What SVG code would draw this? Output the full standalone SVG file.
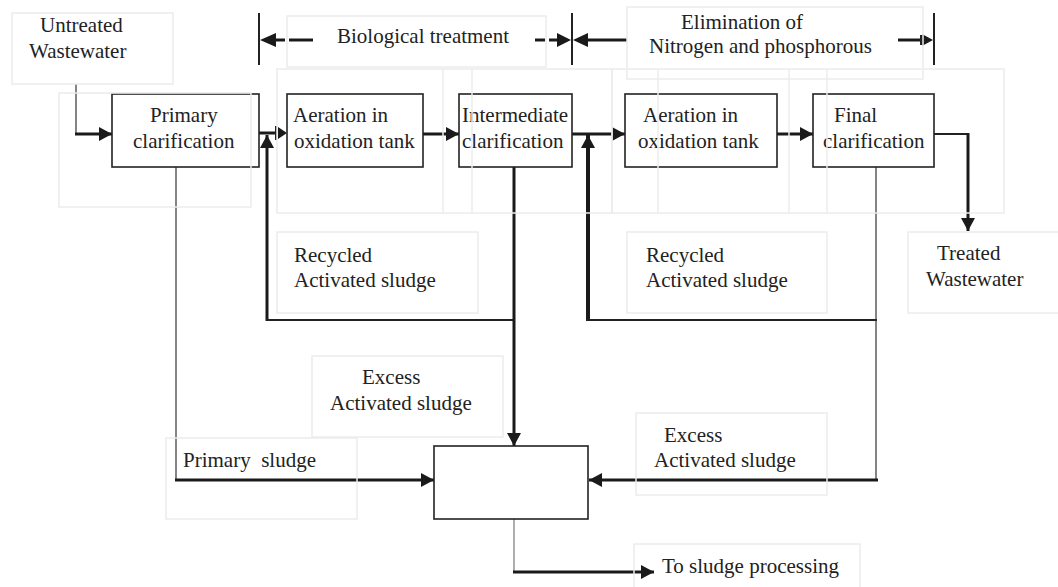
<svg xmlns="http://www.w3.org/2000/svg" width="1058" height="587" viewBox="0 0 1058 587">
<style>
  text { font-family: "Liberation Serif", "Times New Roman", serif; font-size: 21px; fill: #222; white-space: pre; }
  .box { fill: none; stroke: #222; stroke-width: 1.6; }
  .faint { fill: none; stroke: #ececec; stroke-width: 1.5; }
  .thick { stroke: #1a1a1a; stroke-width: 3; fill: none; }
  .med { stroke: #222; stroke-width: 2; fill: none; }
  .thin { stroke: #333; stroke-width: 1.2; fill: none; }
  .head { fill: #1a1a1a; stroke: none; }
</style>
<defs>
  <marker id="ah" markerUnits="userSpaceOnUse" markerWidth="14" markerHeight="14" refX="13" refY="7" orient="auto">
    <path d="M0,0 L13,7 L0,14 z" fill="#1a1a1a"/>
  </marker>
</defs>
<rect width="1058" height="587" fill="#ffffff"/>

<g id="connectors">
  <!-- input -->
  <line class="thin" x1="76" y1="84" x2="76" y2="134"/>
  <line class="thick" x1="75" y1="134" x2="112" y2="134" marker-end="url(#ah)"/>
  <!-- primary to aeration 1 -->
  <line class="thick" x1="259" y1="133" x2="277" y2="133"/>
  <line class="med" x1="276" y1="126" x2="276" y2="140"/>
  <polygon class="head" points="278,127 287,133 278,139"/>
  <!-- recycle 1 -->
  <line class="thick" x1="267" y1="321" x2="267" y2="135" marker-end="url(#ah)"/>
  <line class="med" x1="266" y1="320" x2="514" y2="320"/>
  <!-- aeration1 to intermediate -->
  <line class="thick" x1="423" y1="134" x2="459" y2="134" marker-end="url(#ah)"/>
  <!-- intermediate down -->
  <line class="thick" x1="514" y1="167" x2="514" y2="446" marker-end="url(#ah)"/>
  <!-- intermediate to aeration 2 -->
  <line class="thick" x1="572" y1="134" x2="625" y2="134" marker-end="url(#ah)"/>
  <!-- recycle 2 -->
  <line stroke="#1a1a1a" stroke-width="4" x1="588" y1="321" x2="588" y2="135" marker-end="url(#ah)"/>
  <line class="med" x1="587" y1="320" x2="877" y2="320"/>
  <!-- aeration2 to final -->
  <line class="thick" x1="777" y1="134" x2="813" y2="134" marker-end="url(#ah)"/>
  <!-- final output -->
  <line class="med" x1="934" y1="134" x2="969" y2="134"/>
  <line class="thick" x1="968" y1="133" x2="968" y2="231" marker-end="url(#ah)"/>
  <!-- final down -->
  <line class="thin" x1="876" y1="167" x2="876" y2="481"/>
  <line class="thick" x1="878" y1="480" x2="589" y2="480" marker-end="url(#ah)"/>
  <!-- primary sludge -->
  <line class="thin" x1="176" y1="167" x2="176" y2="480"/>
  <line class="thick" x1="175" y1="480" x2="434" y2="480" marker-end="url(#ah)"/>
  <!-- to sludge processing -->
  <line stroke="#777" stroke-width="1.2" x1="514" y1="519" x2="514" y2="572"/>
  <line class="thick" x1="513" y1="572" x2="654" y2="572" marker-end="url(#ah)"/>
</g>

<g id="dimensions">
  <line class="med" x1="259" y1="13" x2="259" y2="65"/>
  <line class="med" x1="572" y1="13" x2="572" y2="65"/>
  <line class="med" x1="934" y1="13" x2="934" y2="65"/>
  <polygon class="head" points="260,40 276,33 276,47"/>
  <line class="thick" x1="275" y1="40" x2="285" y2="40"/>
  <line class="thick" x1="289" y1="40" x2="313" y2="40"/>
  <line class="thick" x1="535" y1="40" x2="545" y2="40"/>
  <line class="thick" x1="549" y1="40" x2="559" y2="40"/>
  <polygon class="head" points="571,40 557,33 557,47"/>
  <polygon class="head" points="573,40 588,33 588,47"/>
  <line class="thick" x1="587" y1="40" x2="627" y2="40"/>
  <line class="thick" x1="898" y1="40" x2="921" y2="40"/>
  <line class="med" x1="921" y1="35" x2="921" y2="45"/>
  <polygon class="head" points="933,40 922,34 922,46"/>
</g>

<g id="untreated">
  <text x="40" y="32">Untreated</text>
  <text x="29" y="58">Wastewater</text>
</g>
<g id="primary-clarification">
  <rect class="box" x="112" y="94" width="147" height="73"/>
  <text x="150" y="122">Primary</text>
  <text x="133" y="148">clarification</text>
</g>
<g id="aeration-1">
  <rect class="box" x="287" y="94" width="136" height="73"/>
  <text x="293" y="122">Aeration in</text>
  <text x="294" y="148">oxidation tank</text>
</g>
<g id="intermediate-clarification">
  <rect class="box" x="459" y="94" width="113" height="73"/>
  <text x="462" y="122">Intermediate</text>
  <text x="462" y="148">clarification</text>
</g>
<g id="aeration-2">
  <rect class="box" x="625" y="94" width="152" height="73"/>
  <text x="643" y="122">Aeration in</text>
  <text x="638" y="148">oxidation tank</text>
</g>
<g id="final-clarification">
  <rect class="box" x="813" y="94" width="121" height="73"/>
  <text x="834" y="122">Final</text>
  <text x="823" y="148">clarification</text>
</g>
<g id="sludge-collector">
  <rect class="box" x="434" y="446" width="154" height="73"/>
</g>
<g id="labels">
  <text x="337" y="43">Biological treatment</text>
  <text x="681" y="29">Elimination of</text>
  <text x="649" y="53">Nitrogen and phosphorous</text>
  <text x="294" y="262">Recycled</text>
  <text x="294" y="287">Activated sludge</text>
  <text x="646" y="262">Recycled</text>
  <text x="646" y="287">Activated sludge</text>
  <text x="937" y="260">Treated</text>
  <text x="926" y="286">Wastewater</text>
  <text x="362" y="384">Excess</text>
  <text x="330" y="410">Activated sludge</text>
  <text x="183" y="467">Primary  sludge</text>
  <text x="664" y="442">Excess</text>
  <text x="654" y="467">Activated sludge</text>
  <text x="662" y="573">To sludge processing</text>
</g>

<g id="faint-frames">
  <rect class="faint" x="12" y="13" width="161" height="71"/>
  <rect class="faint" x="59" y="93" width="192" height="114"/>
  <rect class="faint" x="287" y="16" width="259" height="51"/>
  <rect class="faint" x="277" y="69" width="335" height="144"/>
  <line class="faint" x1="443" y1="69" x2="443" y2="213"/>
  <line class="faint" x1="472" y1="69" x2="472" y2="213"/>
  <rect class="faint" x="627" y="7" width="296" height="72"/>
  <rect class="faint" x="612" y="69" width="392" height="144"/>
  <line class="faint" x1="658" y1="69" x2="658" y2="213"/>
  <line class="faint" x1="789" y1="69" x2="789" y2="213"/>
  <line class="faint" x1="827" y1="69" x2="827" y2="213"/>
  <rect class="faint" x="277" y="232" width="201" height="81"/>
  <rect class="faint" x="627" y="232" width="200" height="81"/>
  <rect class="faint" x="908" y="232" width="160" height="81"/>
  <rect class="faint" x="312" y="356" width="191" height="81"/>
  <rect class="faint" x="166" y="438" width="191" height="81"/>
  <rect class="faint" x="636" y="413" width="191" height="82"/>
  <rect class="faint" x="634" y="544" width="226" height="50"/>
</g>
</svg>
